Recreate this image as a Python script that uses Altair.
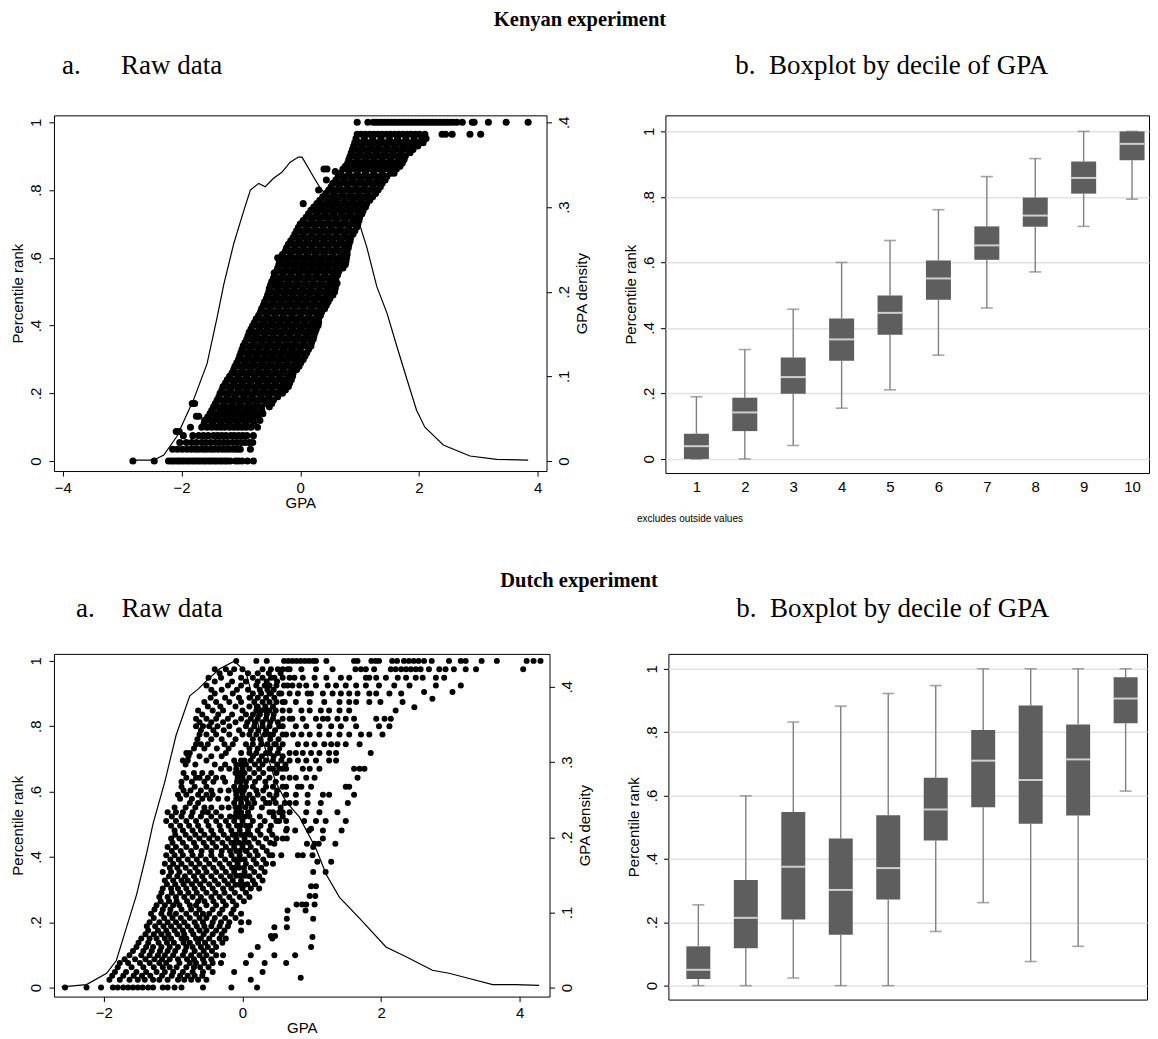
import altair as alt
import pandas as pd

SANS = "Liberation Sans"
SERIF = "Liberation Serif"

# ---------------- Kenyan raw data: (percentile rank, GPA values on that rank level) ----------------
kenya_rows = [
    (0.000, "-2.82 -2.46 -2.22 -2.17 -2.13 -2.08 -2.04 -1.99 -1.95 -1.90 -1.86 -1.81 -1.77 -1.72 -1.68 -1.63 -1.59 -1.54 -1.50 -1.45 -1.41 -1.36 -1.32 -1.27 -1.23 -1.18 -1.09 -1.04 -0.98 -0.89 -0.79"),
    (0.035, "-2.15 -2.07 -1.99 -1.91 -1.84 -1.77 -1.71 -1.64 -1.58 -1.51 -1.45 -1.38 -1.31 -1.25 -1.19 -1.12 -1.06 -1.01 -0.84"),
    (0.055, "-2.03 -1.92 -1.83 -1.75 -1.66 -1.59 -1.51 -1.43 -1.36 -1.29 -1.22 -1.14 -1.07 -1.00 -0.93 -0.86 -0.80"),
    (0.075, "-1.97 -1.81 -1.71 -1.63 -1.55 -1.46 -1.39 -1.32 -1.25 -1.17 -1.11 -1.04 -0.97 -0.90 -0.79"),
    (0.087, "-2.09 -2.04"),
    (0.100, "-1.85 -1.66 -1.57 -1.49 -1.41 -1.34 -1.27 -1.19 -1.12 -1.05 -0.98 -0.91 -0.83 -0.72"),
    (0.120, "-1.61 -1.52 -1.45 -1.37 -1.30 -1.23 -1.16 -1.09 -1.02 -0.95 -0.88 -0.80 -0.68"),
    (0.132, "-1.75 -1.71"),
    (0.140, "-1.52 -1.44 -1.36 -1.28 -1.21 -1.14 -1.07 -1.00 -0.93 -0.86 -0.79 -0.71 -0.63"),
    (0.160, "-1.46 -1.38 -1.30 -1.23 -1.16 -1.09 -1.02 -0.95 -0.88 -0.81 -0.74 -0.65 -0.52"),
    (0.170, "-1.82 -1.78"),
    (0.180, "-1.40 -1.33 -1.25 -1.18 -1.11 -1.05 -0.97 -0.90 -0.83 -0.77 -0.69 -0.61 -0.53 -0.45"),
    (0.200, "-1.35 -1.27 -1.20 -1.14 -1.06 -0.99 -0.92 -0.86 -0.78 -0.71 -0.64 -0.57 -0.49 -0.40 -0.30"),
    (0.220, "-1.30 -1.22 -1.15 -1.08 -1.01 -0.94 -0.87 -0.80 -0.73 -0.66 -0.59 -0.52 -0.45 -0.37 -0.28 -0.20"),
    (0.240, "-1.23 -1.15 -1.08 -1.01 -0.94 -0.87 -0.80 -0.73 -0.66 -0.59 -0.52 -0.45 -0.38 -0.30 -0.22 -0.15"),
    (0.260, "-1.15 -1.07 -1.00 -0.93 -0.86 -0.79 -0.71 -0.64 -0.57 -0.50 -0.43 -0.36 -0.29 -0.21 -0.12"),
    (0.280, "-1.10 -1.02 -0.95 -0.88 -0.81 -0.74 -0.67 -0.60 -0.53 -0.46 -0.39 -0.32 -0.25 -0.17 -0.09 -0.02"),
    (0.300, "-1.04 -0.97 -0.89 -0.82 -0.75 -0.68 -0.61 -0.54 -0.47 -0.40 -0.33 -0.26 -0.19 -0.11 -0.03 0.05"),
    (0.320, "-1.00 -0.92 -0.84 -0.77 -0.70 -0.63 -0.56 -0.49 -0.42 -0.35 -0.28 -0.21 -0.14 -0.07 0.01 0.11"),
    (0.340, "-0.96 -0.88 -0.80 -0.73 -0.66 -0.59 -0.52 -0.45 -0.38 -0.31 -0.24 -0.17 -0.10 -0.03 0.05 0.12 0.18"),
    (0.360, "-0.90 -0.82 -0.75 -0.68 -0.61 -0.54 -0.47 -0.40 -0.33 -0.26 -0.19 -0.12 -0.05 0.02 0.09 0.16 0.22"),
    (0.380, "-0.86 -0.78 -0.70 -0.63 -0.56 -0.49 -0.42 -0.35 -0.28 -0.21 -0.14 -0.07 0.00 0.07 0.14 0.20 0.25"),
    (0.400, "-0.80 -0.72 -0.65 -0.58 -0.51 -0.44 -0.37 -0.30 -0.23 -0.16 -0.09 -0.02 0.05 0.12 0.19 0.25 0.30"),
    (0.420, "-0.74 -0.66 -0.59 -0.52 -0.45 -0.38 -0.31 -0.24 -0.17 -0.10 -0.03 0.04 0.11 0.18 0.25 0.31"),
    (0.440, "-0.67 -0.60 -0.53 -0.46 -0.39 -0.32 -0.25 -0.18 -0.11 -0.04 0.03 0.10 0.17 0.24 0.30 0.36"),
    (0.460, "-0.62 -0.55 -0.48 -0.41 -0.34 -0.27 -0.20 -0.13 -0.06 0.01 0.08 0.15 0.22 0.29 0.36 0.44"),
    (0.480, "-0.57 -0.50 -0.43 -0.36 -0.29 -0.22 -0.15 -0.08 -0.01 0.06 0.13 0.20 0.27 0.34 0.42 0.50"),
    (0.500, "-0.53 -0.46 -0.39 -0.32 -0.25 -0.18 -0.11 -0.04 0.03 0.10 0.17 0.24 0.31 0.38 0.45 0.52 0.58"),
    (0.520, "-0.50 -0.43 -0.36 -0.29 -0.22 -0.15 -0.08 -0.01 0.06 0.13 0.20 0.27 0.34 0.41 0.48 0.55 0.60"),
    (0.540, "-0.45 -0.38 -0.31 -0.24 -0.17 -0.10 -0.03 0.04 0.11 0.18 0.25 0.32 0.39 0.46 0.53 0.60"),
    (0.560, "-0.40 -0.33 -0.26 -0.19 -0.12 -0.05 0.02 0.09 0.16 0.23 0.30 0.37 0.44 0.51 0.58 0.65"),
    (0.580, "-0.36 -0.29 -0.22 -0.15 -0.08 -0.01 0.06 0.13 0.20 0.27 0.34 0.41 0.48 0.55 0.62 0.70 0.76"),
    (0.600, "-0.33 -0.26 -0.19 -0.12 -0.05 0.02 0.09 0.16 0.23 0.30 0.37 0.44 0.51 0.58 0.65 0.72 0.78"),
    (0.620, "-0.25 -0.18 -0.11 -0.04 0.03 0.10 0.17 0.24 0.31 0.38 0.45 0.52 0.59 0.66 0.73 0.79"),
    (0.640, "-0.20 -0.13 -0.06 0.01 0.08 0.15 0.22 0.29 0.36 0.43 0.50 0.57 0.64 0.71 0.77 0.82"),
    (0.660, "-0.12 -0.05 0.02 0.09 0.16 0.23 0.30 0.37 0.44 0.51 0.58 0.65 0.72 0.79 0.85"),
    (0.680, "-0.06 0.01 0.08 0.15 0.22 0.29 0.36 0.43 0.50 0.57 0.64 0.71 0.78 0.85 0.92"),
    (0.700, "0.00 0.07 0.14 0.21 0.28 0.35 0.42 0.49 0.56 0.63 0.70 0.77 0.84 0.91 0.97"),
    (0.720, "0.10 0.17 0.24 0.31 0.38 0.45 0.52 0.59 0.66 0.73 0.80 0.87 0.94 1.00"),
    (0.740, "0.18 0.25 0.32 0.39 0.46 0.53 0.60 0.67 0.74 0.81 0.88 0.95 1.02 1.06"),
    (0.760, "0.05 0.28 0.35 0.42 0.49 0.56 0.63 0.70 0.77 0.84 0.91 0.98 1.05 1.12"),
    (0.780, "0.38 0.45 0.52 0.59 0.66 0.73 0.80 0.87 0.94 1.01 1.08 1.15 1.22"),
    (0.800, "0.31 0.48 0.55 0.62 0.69 0.76 0.83 0.90 0.97 1.04 1.11 1.18 1.25 1.31"),
    (0.820, "0.55 0.62 0.69 0.76 0.83 0.90 0.97 1.04 1.11 1.18 1.25 1.32 1.38"),
    (0.840, "0.64 0.71 0.78 0.85 0.92 0.99 1.06 1.13 1.20 1.27 1.34 1.41 1.46"),
    (0.862, "0.40 0.45 0.72 0.79 0.86 0.93 1.00 1.07 1.14 1.21 1.28 1.35 1.42 1.49 1.56 1.62"),
    (0.880, "0.80 0.87 0.94 1.01 1.08 1.15 1.22 1.29 1.36 1.43 1.50 1.57 1.64 1.72"),
    (0.900, "0.84 0.91 0.98 1.05 1.12 1.19 1.26 1.33 1.40 1.47 1.54 1.61 1.68 1.77"),
    (0.920, "0.88 0.95 1.02 1.09 1.16 1.23 1.30 1.37 1.44 1.51 1.58 1.65 1.72 1.80 1.90"),
    (0.940, "0.92 0.99 1.06 1.13 1.20 1.27 1.34 1.41 1.48 1.55 1.62 1.69 1.76 1.83 1.92 2.00 2.07"),
    (0.965, "0.96 1.03 1.10 1.17 1.24 1.31 1.38 1.45 1.52 1.59 1.66 1.73 1.80 1.87 1.94 2.01 2.10 2.39 2.45 2.56 2.86 3.04"),
    (1.000, "0.96 1.14 1.23 1.28 1.33 1.38 1.43 1.48 1.53 1.58 1.63 1.68 1.73 1.78 1.83 1.88 1.93 1.98 2.03 2.08 2.13 2.18 2.23 2.28 2.33 2.38 2.43 2.48 2.53 2.58 2.64 2.73 2.90 2.93 3.17 3.47 3.84"),
]
# points lying between the rank levels above (the band is solid black in the middle)
kenya_between = [
    (0.110, "-1.62 -1.48 -1.34 -1.20 -1.06 -0.92 -0.78"),
    (0.130, "-1.56 -1.42 -1.28 -1.14 -1.00 -0.86 -0.72"),
    (0.150, "-1.49 -1.35 -1.21 -1.07 -0.93 -0.79 -0.65"),
    (0.170, "-1.43 -1.29 -1.15 -1.01 -0.87 -0.73 -0.58 -0.48"),
    (0.190, "-1.37 -1.23 -1.09 -0.95 -0.81 -0.67 -0.53 -0.38"),
    (0.210, "-1.32 -1.18 -1.04 -0.90 -0.76 -0.62 -0.48 -0.34 -0.25"),
    (0.230, "-1.26 -1.12 -0.98 -0.84 -0.70 -0.56 -0.42 -0.28 -0.18"),
    (0.250, "-1.19 -1.05 -0.91 -0.77 -0.63 -0.49 -0.35 -0.21 -0.13"),
    (0.270, "-1.12 -0.98 -0.84 -0.70 -0.56 -0.42 -0.28 -0.14 -0.06"),
    (0.290, "-1.07 -0.93 -0.79 -0.65 -0.51 -0.37 -0.23 -0.09 0.01"),
    (0.310, "-1.02 -0.88 -0.74 -0.60 -0.46 -0.32 -0.18 -0.04 0.08"),
    (0.330, "-0.98 -0.84 -0.70 -0.56 -0.42 -0.28 -0.14 0.00 0.14"),
    (0.350, "-0.93 -0.79 -0.65 -0.51 -0.37 -0.23 -0.09 0.05 0.19"),
    (0.370, "-0.88 -0.74 -0.60 -0.46 -0.32 -0.18 -0.04 0.10 0.23"),
    (0.390, "-0.83 -0.69 -0.55 -0.41 -0.27 -0.13 0.01 0.15 0.27"),
    (0.410, "-0.77 -0.63 -0.49 -0.35 -0.21 -0.07 0.07 0.21 0.31"),
    (0.430, "-0.70 -0.56 -0.42 -0.28 -0.14 0.00 0.14 0.28 0.34"),
    (0.450, "-0.65 -0.51 -0.37 -0.23 -0.09 0.05 0.19 0.33 0.41"),
    (0.470, "-0.60 -0.46 -0.32 -0.18 -0.04 0.10 0.24 0.38 0.47"),
    (0.490, "-0.55 -0.41 -0.27 -0.13 0.01 0.15 0.29 0.43 0.55"),
    (0.510, "-0.52 -0.38 -0.24 -0.10 0.04 0.18 0.32 0.46 0.59"),
    (0.530, "-0.48 -0.34 -0.20 -0.06 0.08 0.22 0.36 0.50 0.60"),
    (0.550, "-0.43 -0.29 -0.15 -0.01 0.13 0.27 0.41 0.55 0.63"),
    (0.570, "-0.38 -0.24 -0.10 0.04 0.18 0.32 0.46 0.60 0.72"),
    (0.590, "-0.35 -0.21 -0.07 0.07 0.21 0.35 0.49 0.63 0.77"),
    (0.610, "-0.30 -0.16 -0.02 0.12 0.26 0.40 0.54 0.68 0.79"),
    (0.630, "-0.23 -0.09 0.05 0.19 0.33 0.47 0.61 0.75 0.81"),
    (0.650, "-0.16 -0.02 0.12 0.26 0.40 0.54 0.68 0.82 0.84"),
    (0.670, "-0.09 0.05 0.19 0.33 0.47 0.61 0.75 0.89"),
    (0.690, "-0.03 0.11 0.25 0.39 0.53 0.67 0.81 0.95"),
    (0.710, "0.05 0.19 0.33 0.47 0.61 0.75 0.89 0.99"),
    (0.730, "0.14 0.28 0.42 0.56 0.70 0.84 0.98 1.04"),
    (0.750, "0.23 0.37 0.51 0.65 0.79 0.93 1.07 1.10"),
    (0.770, "0.33 0.47 0.61 0.75 0.89 1.03 1.17"),
    (0.790, "0.43 0.57 0.71 0.85 0.99 1.13 1.27"),
    (0.810, "0.52 0.66 0.80 0.94 1.08 1.22 1.35"),
    (0.830, "0.60 0.74 0.88 1.02 1.16 1.30 1.43"),
    (0.850, "0.68 0.82 0.96 1.10 1.24 1.38 1.52 1.58"),
    (0.870, "0.76 0.90 1.04 1.18 1.32 1.46 1.60 1.68"),
    (0.890, "0.82 0.96 1.10 1.24 1.38 1.52 1.66 1.75"),
    (0.910, "0.86 1.00 1.14 1.28 1.42 1.56 1.70 1.85"),
    (0.930, "0.90 1.04 1.18 1.32 1.46 1.60 1.74 1.88 1.98"),
    (0.952, "0.94 1.08 1.22 1.36 1.50 1.64 1.78 1.92 2.05 2.12"),
]
kenya_extra = [
    (0.610, "0.78 0.74"), (0.525, "0.62"), (0.830, "0.44"), (0.855, "0.59"),
    (0.600, "-0.38"), (0.555, "-0.44"), (0.530, "-0.42"), (0.380, "-0.81"),
]

# GPA density curve (Kenya)
kenya_dens_gpa = [-2.83, -2.47, -2.30, -2.08, -1.80, -1.57, -1.40, -1.29, -1.12, -0.95, -0.84, -0.70, -0.59,
                  -0.45, -0.31, -0.17, -0.03, 0.03, 0.22, 0.34, 0.50, 0.70, 0.98, 1.12, 1.29, 1.46, 1.63, 1.80,
                  1.96, 2.10, 2.41, 2.86, 3.31, 3.84]
kenya_dens = [0.001, 0.001, 0.007, 0.029, 0.072, 0.115, 0.170, 0.208, 0.257, 0.296, 0.320, 0.328, 0.324,
              0.334, 0.341, 0.353, 0.359, 0.359, 0.336, 0.322, 0.310, 0.298, 0.284, 0.253, 0.206, 0.175, 0.135,
              0.096, 0.060, 0.040, 0.019, 0.006, 0.002, 0.001]

# ---------------- Dutch raw data ----------------
dutch_rows = [
    (1.000, "-0.09 0.20 0.35 0.60 0.66 0.72 0.78 0.84 0.90 0.96 1.02 1.06 1.21 1.61 1.66 1.86 1.92 1.97 2.16 2.23 2.33 2.40 2.47 2.54 2.62 2.73 2.98 3.15 3.22 3.45 3.67 4.10 4.20 4.30"),
    (0.974, "-0.40 -0.24 -0.12 0.00 0.29 0.41 0.51 0.58 0.65 0.68 0.85 1.06 1.30 1.63 1.71 1.78 1.90 2.14 2.21 2.29 2.36 2.43 2.50 2.57 2.69 2.84 2.93 3.05 3.22 3.37 4.05"),
    (0.948, "-0.49 -0.31 -0.02 0.15 0.29 0.41 0.46 0.58 0.68 0.75 0.87 1.04 1.21 1.42 1.54 1.78 1.83 1.93 2.07 2.24 2.36 2.50 2.60 2.79 2.91"),
    (0.925, "-0.52 -0.21 -0.02 0.20 0.32 0.39 0.49 0.60 0.65 0.72 0.82 0.92 1.06 1.23 1.35 1.49 1.64 1.78 1.97 2.19 2.41 2.79 3.15"),
    (0.905, "2.62 3.03"),
    (0.900, "-0.40 -0.14 0.15 0.27 0.39 0.41 0.53 0.56 0.68 0.80 0.94 0.99 1.16 1.30 1.42 1.54 1.66 1.83 1.93 2.12 2.29"),
    (0.884, "2.74"),
    (0.874, "-0.55 -0.38 -0.19 -0.02 0.17 0.29 0.39 0.49 0.58 0.61 0.77 0.97 1.18 1.40 1.54 1.64 1.83 1.99 2.31"),
    (0.858, "2.48"),
    (0.848, "-0.64 -0.43 -0.28 0.00 0.20 0.27 0.34 0.39 0.48 0.58 0.68 0.85 0.97 1.13 1.25 1.40 1.54 2.21"),
    (0.823, "-0.67 -0.52 -0.38 -0.21 -0.02 0.12 0.22 0.34 0.44 0.58 0.68 0.72 0.87 1.06 1.16 1.23 1.37 1.49 1.61 1.93 2.05 2.14"),
    (0.800, "-0.67 -0.57 -0.48 -0.36 -0.19 0.05 0.17 0.29 0.39 0.53 0.58 0.77 0.92 1.11 1.28 1.42 1.64 1.97 2.12"),
    (0.775, "-0.62 -0.52 -0.38 -0.19 0.00 0.10 0.20 0.32 0.39 0.44 0.58 0.63 0.73 0.85 0.97 1.11 1.25 1.40 1.54 1.71 1.83 2.02"),
    (0.745, "-0.67 -0.60 -0.50 -0.26 -0.14 0.05 0.15 0.27 0.36 0.46 0.48 0.58 0.80 0.92 1.04 1.18 1.28 1.37 1.49 1.69"),
    (0.718, "-0.81 -0.76 -0.24 -0.02 0.10 0.20 0.34 0.39 0.51 0.68 0.77 0.87 0.99 1.11 1.25 1.35 1.85"),
    (0.695, "-0.86 -0.79 -0.52 -0.12 -0.02 0.03 0.12 0.24 0.34 0.44 0.56 0.68 0.80 0.92 1.06 1.25 1.35"),
    (0.670, "-0.31 -0.19 -0.09 0.00 0.10 0.24 0.39 0.44 0.53 0.58 0.63 0.87 0.97 1.11 1.61 1.69 1.76"),
    (0.642, "-0.81 -0.67 -0.62 -0.50 -0.38 -0.28 -0.07 0.00 0.10 0.24 0.39 0.58 0.68 0.77 0.92 1.04 1.66"),
    (0.615, "-0.88 -0.69 -0.52 -0.12 -0.02 0.05 0.15 0.34 0.44 0.58 0.63 0.80 0.85 0.99 1.49 1.54"),
    (0.590, "-0.93 -0.81 -0.64 -0.52 -0.43 -0.09 0.00 0.10 0.22 0.39 0.49 0.63 0.77 0.94 1.16 1.25 1.61"),
    (0.565, "-0.76 -0.64 -0.12 -0.02 0.08 0.17 0.34 0.39 0.48 0.61 0.68 0.77 0.94 1.13 1.52"),
    (0.537, "-1.08 -0.96 -0.86 -0.72 -0.57 -0.50 -0.38 -0.09 -0.02 0.08 0.39 0.44 0.53 0.58 0.68 0.92 1.11 1.37"),
    (0.510, "-1.10 -0.96 -0.81 -0.67 -0.52 -0.38 -0.24 -0.12 0.00 0.15 0.32 0.49 0.53 0.63 0.89 1.06 1.20 1.49"),
    (0.486, "0.64 0.99"),
    (0.481, "-0.98 -0.86 -0.72 -0.60 -0.45 -0.31 -0.16 -0.04 0.08 0.22 0.39 0.63 0.76 0.96 1.16 1.43"),
    (0.456, "-1.03 -0.91 -0.76 -0.62 -0.48 -0.36 -0.21 -0.09 0.03 0.17 0.34 0.49 0.58 0.64 1.16"),
    (0.440, "0.46 0.93 1.04 1.10 1.34"),
    (0.430, "-1.08 -0.96 -0.81 -0.67 -0.52 -0.38 -0.24 -0.12 0.00 0.12 0.29 1.02"),
    (0.405, "-1.10 -0.98 -0.86 -0.72 -0.60 -0.45 -0.31 -0.16 -0.04 0.10 0.22 0.39 0.43 0.56 0.80 0.87 1.01"),
    (0.385, "1.08 1.28"),
    (0.379, "-1.12 -1.00 -0.88 -0.74 -0.62 -0.48 -0.33 -0.19 -0.07 0.05 0.20 0.34 0.44"),
    (0.354, "-1.15 -1.03 -0.91 -0.76 -0.64 -0.52 -0.38 -0.24 -0.12 0.03 0.17 0.32 1.02 1.20"),
    (0.328, "-1.12 -1.00 -0.88 -0.79 -0.67 -0.55 -0.40 -0.26 -0.14 -0.02 0.15 0.29"),
    (0.310, "0.99 1.06"),
    (0.303, "-1.15 -1.03 -0.93 -0.81 -0.69 -0.57 -0.43 -0.28 -0.16 0.00 0.12 0.24"),
    (0.280, "0.97 1.05"),
    (0.277, "-1.20 -1.08 -0.96 -0.84 -0.72 -0.60 -0.45 -0.33 -0.19 -0.04 0.10"),
    (0.254, "0.78 0.86 0.92 1.04"),
    (0.252, "-1.24 -1.12 -1.00 -0.91 -0.76 -0.67 -0.52 -0.38 -0.24 -0.09"),
    (0.236, "0.65 0.91"),
    (0.226, "-1.32 -1.17 -1.05 -0.96 -0.81 -0.67 -0.57 -0.48 -0.33 -0.16 -0.02"),
    (0.211, "0.64 1.02"),
    (0.200, "-1.34 -1.20 -1.08 -0.96 -0.84 -0.69 -0.57 -0.43 -0.31 -0.19 -0.02 0.09"),
    (0.185, "0.46 0.64"),
    (0.175, "-1.36 -1.22 -1.10 -0.98 -0.86 -0.74 -0.62 -0.52 -0.38 -0.26 -0.02"),
    (0.158, "0.41 0.47"),
    (0.155, "1.01"),
    (0.150, "-1.46 -1.34 -1.24 -1.12 -1.03 -0.88 -0.81 -0.67 -0.60 -0.48 -0.33 -0.24 0.43"),
    (0.124, "-1.53 -1.39 -1.29 -1.17 -1.05 -0.93 -0.81 -0.72 -0.60 -0.50 -0.38 0.22 0.99"),
    (0.099, "-1.63 -1.46 -1.34 -1.22 -1.12 -1.00 -0.86 -0.74 -0.62 -0.52 -0.38 -0.28 0.12 0.46 0.76"),
    (0.075, "-1.77 -1.65 -1.48 -1.34 -1.20 -1.10 -0.91 -0.76 -0.67 -0.55 -0.43 -0.31 0.05 0.32 0.63"),
    (0.048, "-1.84 -1.68 -1.53 -1.39 -1.24 -1.12 -1.00 -0.86 -0.72 -0.57 -0.43 -0.12 0.29"),
    (0.030, "0.84"),
    (0.024, "-1.92 -1.77 -1.63 -1.51 -1.41 -1.29 -1.20 -1.08 -0.93 -0.84 -0.74 -0.64 -0.52 0.12"),
    (0.000, "-2.56 -2.25 -2.04 -1.87 -1.80 -1.72 -1.65 -1.58 -1.51 -1.44 -1.36 -1.29 -1.15 -1.08 -0.98 -0.88 -0.57 -0.16 0.21"),
]
# further points of the main (left) Dutch cloud, between the rank levels above
dutch_between = [
    (0.036, "-1.88 -1.72 -1.57 -1.45 -1.33 -1.16 -1.02 -0.90 -0.79 -0.69 -0.58"),
    (0.062, "-1.80 -1.60 -1.43 -1.28 -1.15 -1.05 -0.95 -0.81 -0.70 -0.61 -0.49"),
    (0.087, "-1.70 -1.55 -1.40 -1.27 -1.16 -1.05 -0.93 -0.80 -0.70 -0.57 -0.45"),
    (0.112, "-1.58 -1.43 -1.31 -1.19 -1.08 -0.97 -0.83 -0.69 -0.56 -0.44"),
    (0.137, "-1.50 -1.36 -1.21 -1.09 -0.99 -0.85 -0.76 -0.64 -0.54 -0.42 -0.29"),
    (0.163, "-1.40 -1.28 -1.17 -1.07 -0.94 -0.84 -0.71 -0.56 -0.43 -0.30"),
    (0.188, "-1.38 -1.26 -1.14 -1.03 -0.91 -0.79 -0.66 -0.55 -0.45 -0.33 -0.21"),
    (0.213, "-1.28 -1.13 -1.01 -0.89 -0.76 -0.62 -0.52 -0.40 -0.25 -0.10"),
    (0.239, "-1.27 -1.15 -1.04 -0.88 -0.74 -0.62 -0.43 -0.29 -0.13"),
    (0.264, "-1.18 -1.06 -0.95 -0.80 -0.64 -0.55 -0.42 -0.28 -0.14 0.02"),
    (0.290, "-1.17 -1.02 -0.90 -0.78 -0.66 -0.52 -0.39 -0.26 -0.11 0.05"),
    (0.316, "-1.09 -0.97 -0.85 -0.73 -0.61 -0.48 -0.35 -0.21 0.07 0.18"),
    (0.341, "-1.06 -0.94 -0.83 -0.70 -0.58 -0.45 -0.31 -0.18 0.10 0.24"),
    (0.367, "-1.05 -0.94 -0.82 -0.68 -0.55 -0.42 -0.29 -0.15 0.12 0.27"),
    (0.392, "-1.04 -0.92 -0.79 -0.66 -0.53 -0.40 -0.25 -0.12 0.16 0.30"),
    (0.418, "-1.02 -0.89 -0.74 -0.59 -0.45 -0.30 -0.18 0.06 0.19 0.35"),
    (0.443, "-1.01 -0.86 -0.70 -0.56 -0.43 -0.29 -0.16 0.09 0.23 0.40"),
    (0.468, "-0.97 -0.82 -0.68 -0.55 -0.42 -0.27 -0.14 0.11 0.26 0.43"),
    (0.495, "-1.03 -0.90 -0.77 -0.64 -0.49 -0.33 -0.20 0.11 0.26 0.41"),
    (0.524, "-1.02 -0.88 -0.74 -0.60 -0.45 -0.31 -0.18 0.10 0.25 0.45 0.58"),
    (0.551, "-0.98 -0.82 -0.68 -0.55 -0.45 -0.30 -0.20 0.13 0.28 0.55"),
    (0.578, "-0.90 -0.73 -0.58 -0.47 -0.35 -0.22 0.15 0.30 0.45"),
    (0.603, "-0.85 -0.75 -0.60 -0.45 -0.32 -0.20 0.20 0.30 0.50"),
    (0.630, "-0.88 -0.73 -0.55 -0.42 -0.25 0.18 0.33 0.48"),
    (0.657, "-0.85 -0.70 -0.58 -0.45 0.17 0.30 0.49"),
    (0.683, "-0.82 -0.68 -0.40 -0.25 0.18 0.29 0.50 0.62"),
    (0.708, "-0.78 -0.62 -0.45 -0.30 0.15 0.28 0.45 0.58"),
    (0.732, "-0.70 -0.55 -0.37 -0.20 0.10 0.22 0.40 0.53"),
    (0.760, "-0.65 -0.45 -0.30 -0.10 0.15 0.26 0.40 0.52"),
    (0.788, "-0.60 -0.42 -0.27 -0.05 0.12 0.23 0.34 0.47"),
    (0.812, "-0.62 -0.45 -0.28 -0.10 0.07 0.18 0.29 0.40 0.51"),
    (0.836, "-0.58 -0.35 -0.15 0.05 0.15 0.25 0.35 0.45"),
    (0.860, "-0.50 -0.32 -0.10 0.10 0.22 0.33 0.44"),
    (0.887, "-0.46 -0.25 -0.05 0.10 0.22 0.34 0.46"),
    (0.912, "-0.45 -0.30 -0.08 0.08 0.25 0.36 0.45"),
    (0.937, "-0.40 -0.15 0.05 0.22 0.35 0.50"),
    (0.962, "-0.33 -0.18 0.08 0.22 0.38 0.55"),
]
# dense vertical column of points just left of GPA = 0
dutch_column = [
    (0.315, "-0.10 -0.04 0.03"), (0.342, "-0.09 -0.03 0.04"), (0.367, "-0.11 -0.05 0.02"),
    (0.392, "-0.10 -0.03 0.03"), (0.418, "-0.09 -0.04 0.05"), (0.443, "-0.11 -0.05 0.02"),
    (0.468, "-0.10 -0.02 0.04"), (0.495, "-0.08 -0.03 0.05"), (0.523, "-0.11 -0.05 0.03"),
    (0.552, "-0.10 -0.04 0.04"), (0.578, "-0.09 -0.03 0.05"), (0.603, "-0.10 -0.05 0.02"),
    (0.630, "-0.08 -0.03 0.05"), (0.657, "-0.10 -0.04 0.03"), (0.683, "-0.09 -0.02 0.05"),
]

dutch_dens_gpa = [-2.61, -2.25, -1.96, -1.82, -1.68, -1.53, -1.39, -1.29, -1.12, -0.96, -0.76, -0.64, -0.52,
                  -0.33, -0.12, 0.05, 0.15, 0.24, 0.36, 0.48, 0.63, 0.82, 1.06, 1.21, 1.40, 1.69, 2.07, 2.36,
                  2.74, 2.98, 3.27, 3.61, 3.94, 4.28]
dutch_dens = [0.001, 0.004, 0.019, 0.036, 0.078, 0.123, 0.176, 0.218, 0.274, 0.335, 0.388, 0.397, 0.408,
              0.424, 0.434, 0.420, 0.384, 0.344, 0.309, 0.273, 0.247, 0.227, 0.185, 0.150, 0.120, 0.092,
              0.054, 0.041, 0.023, 0.019, 0.012, 0.004, 0.004, 0.003]

# ---------------- Boxplots by decile ----------------
deciles = [1, 2, 3, 4, 5, 6, 7, 8, 9, 10]
kenya_lo = [0.000, 0.000, 0.041, 0.155, 0.211, 0.317, 0.461, 0.571, 0.710, 0.793]
kenya_q1 = [0.000, 0.085, 0.199, 0.300, 0.379, 0.486, 0.608, 0.709, 0.810, 0.912]
kenya_med = [0.039, 0.142, 0.250, 0.365, 0.446, 0.551, 0.652, 0.743, 0.858, 0.962]
kenya_q3 = [0.077, 0.187, 0.310, 0.429, 0.499, 0.606, 0.710, 0.798, 0.908, 1.000]
kenya_hi = [0.190, 0.334, 0.457, 0.600, 0.667, 0.761, 0.862, 0.917, 1.000, 1.000]

dutch_lo = [0.000, 0.000, 0.024, 0.000, 0.000, 0.171, 0.262, 0.076, 0.124, 0.614]
dutch_q1 = [0.021, 0.118, 0.209, 0.161, 0.272, 0.458, 0.563, 0.511, 0.537, 0.828]
dutch_med = [0.050, 0.214, 0.375, 0.302, 0.371, 0.556, 0.710, 0.649, 0.714, 0.906]
dutch_q3 = [0.124, 0.333, 0.548, 0.464, 0.538, 0.656, 0.807, 0.884, 0.824, 0.973]
dutch_hi = [0.255, 0.599, 0.832, 0.882, 0.922, 0.947, 1.000, 1.000, 1.000, 1.000]


def points_frame(*row_lists):
    recs = []
    for rows in row_lists:
        for rank, xs in rows:
            for v in xs.split():
                recs.append({"gpa": float(v), "rank": rank})
    return pd.DataFrame(recs)


PCT_EXPR = ("datum.value == 0 ? '0' : datum.value == 1 ? '1' : "
            "replace(format(datum.value, '.1f'), '0.', '.')")
DENS_EXPR = "datum.value == 0 ? '0' : replace(format(datum.value, '.1f'), '0.', '.')"

BOX_FILL = "#5e5e5e"
WHISK = "#808080"
FS = 15


def left_axis(grid=False, lp=5, tp=3):
    return alt.Axis(values=[0, 0.2, 0.4, 0.6, 0.8, 1], labelExpr=PCT_EXPR, labelAngle=270,
                    labelAlign="center", labelBaseline="bottom", labelPadding=lp, tickSize=5,
                    labelFontSize=FS, titleFontSize=FS, titlePadding=tp, domain=False,
                    grid=grid, gridColor="#e2e2e2", gridWidth=1.5)


def panel_title(text, dx, offset):
    return alt.TitleParams(text=text, font=SERIF, fontSize=27, fontWeight="normal", anchor="start",
                           frame="group", dx=dx, offset=offset, color="black")


def scatter_panel(pts, dens_x, dens_y, xdom, ydom, ddom, xticks, w, h, size, title):
    dd = pd.DataFrame({"gpa": dens_x, "dens": dens_y})
    xenc = alt.X("gpa:Q", scale=alt.Scale(domain=xdom, nice=False, zero=False, padding=0),
                 axis=alt.Axis(values=xticks, format="d", title="GPA", tickSize=5, labelPadding=4,
                               labelFontSize=FS, titleFontSize=FS, titlePadding=0, grid=False,
                               domain=False))
    dots = alt.Chart(pts).mark_circle(size=size, color="black", opacity=1).encode(
        x=xenc,
        y=alt.Y("rank:Q", title="Percentile rank",
                scale=alt.Scale(domain=ydom, nice=False, zero=False, padding=0), axis=left_axis()),
    )
    line = alt.Chart(dd).mark_line(color="black", strokeWidth=1.2).encode(
        x=alt.X("gpa:Q"),
        y=alt.Y("dens:Q", title="GPA density",
                scale=alt.Scale(domain=ddom, nice=False, zero=False, padding=0),
                axis=alt.Axis(orient="right", values=[0, 0.1, 0.2, 0.3, 0.4], labelExpr=DENS_EXPR,
                              labelAngle=270, labelAlign="center", labelBaseline="top",
                              labelPadding=5, tickSize=5, labelFontSize=FS, titleFontSize=FS,
                              titleAngle=270, titleBaseline="top", titlePadding=3,
                              grid=False, domain=False)),
    )
    return alt.layer(dots, line).resolve_scale(y="independent").properties(
        width=w, height=h, title=title)


def box_panel(lo, q1, med, q3, hi, xdom, ydom, w, h, show_x, title, bw):
    df = pd.DataFrame({"dec": deciles, "lo": lo, "q1": q1, "med": med, "q3": q3, "hi": hi})
    if show_x:
        xaxis = alt.Axis(values=deciles, format="d", ticks=False, domain=False, grid=False,
                         labelPadding=6, labelFontSize=FS, title="excludes outside values",
                         titleFontSize=10, titleFontWeight="normal", titleAnchor="start",
                         titleAlign="left", titleX=-29, titleY=45, titleBaseline="middle")
    else:
        xaxis = None
    xenc = alt.X("dec:Q", scale=alt.Scale(domain=xdom, nice=False, zero=False, padding=0),
                 axis=xaxis)
    ysc = alt.Scale(domain=ydom, nice=False, zero=False, padding=0)
    base = alt.Chart(df).encode(x=xenc)
    w_lo = base.mark_rule(color=WHISK, strokeWidth=1.4).encode(
        y=alt.Y("lo:Q", title="Percentile rank", scale=ysc, axis=left_axis(grid=True, lp=4, tp=3)),
        y2="q1:Q")
    w_hi = base.mark_rule(color=WHISK, strokeWidth=1.4).encode(
        y=alt.Y("q3:Q", title="Percentile rank"), y2="hi:Q")
    c_lo = base.mark_tick(orient="horizontal", size=12, thickness=1.6, color=WHISK).encode(
        y=alt.Y("lo:Q", title="Percentile rank"))
    c_hi = base.mark_tick(orient="horizontal", size=12, thickness=1.6, color=WHISK).encode(
        y=alt.Y("hi:Q", title="Percentile rank"))
    box = base.mark_bar(size=bw, color=BOX_FILL).encode(
        y=alt.Y("q1:Q", title="Percentile rank"), y2="q3:Q")
    med_t = base.mark_tick(orient="horizontal", size=bw, thickness=2, color="white").encode(
        y=alt.Y("med:Q", title="Percentile rank"))
    return alt.layer(w_lo, w_hi, c_lo, c_hi, box, med_t).properties(width=w, height=h, title=title)


kenya_pts = points_frame(kenya_rows, kenya_between, kenya_extra)
dutch_pts = points_frame(dutch_rows, dutch_between, dutch_column)

NB = "\u00a0"

k_scatter = scatter_panel(kenya_pts, kenya_dens_gpa, kenya_dens, [-4.15, 4.15], [-0.0295, 1.0206],
                          [-0.0118, 0.4083], [-4, -2, 0, 2, 4], 493, 356, 50,
                          panel_title("a." + NB * 6 + "Raw data", 8, 35))
k_box = box_panel(kenya_lo, kenya_q1, kenya_med, kenya_q3, kenya_hi, [0.36, 10.35],
                  [-0.043, 1.049], 484, 358, True,
                  panel_title("b." + NB * 2 + "Boxplot by decile of GPA", 70, 35), 25)

d_scatter = scatter_panel(dutch_pts, dutch_dens_gpa, dutch_dens, [-2.72, 4.43], [-0.0275, 1.0214],
                          [-0.012, 0.4439], [-2, 0, 2, 4], 496, 343, 36,
                          panel_title("a." + NB * 4 + "Raw data", 22, 31))
d_box = box_panel(dutch_lo, dutch_q1, dutch_med, dutch_q3, dutch_hi, [0.37, 10.45],
                  [-0.044, 1.047], 479, 346, False,
                  panel_title("b." + NB * 2 + "Boxplot by decile of GPA", 68, 31), 24)

row1 = alt.hconcat(k_scatter, k_box, spacing=32).properties(
    title=alt.TitleParams("Kenyan experiment", font=SERIF, fontSize=20.5, fontWeight="bold",
                          anchor="middle", offset=21, color="black"))
row2 = alt.hconcat(d_scatter, d_box, spacing=32).properties(
    title=alt.TitleParams("Dutch experiment", font=SERIF, fontSize=20.5, fontWeight="bold",
                          anchor="middle", offset=3, color="black"))

chart = alt.vconcat(row1, row2, spacing=47).properties(
    padding={"left": 2, "top": 2, "right": 0, "bottom": 0},
    background="white",
).configure_view(stroke="black", strokeWidth=1).configure_axis(
    labelFont=SANS, titleFont=SANS, labelColor="black", titleColor="black",
    tickColor="black", tickWidth=1, titleFontWeight="normal",
)

chart.save("out.html", embed_options={"renderer": "svg", "actions": False})
